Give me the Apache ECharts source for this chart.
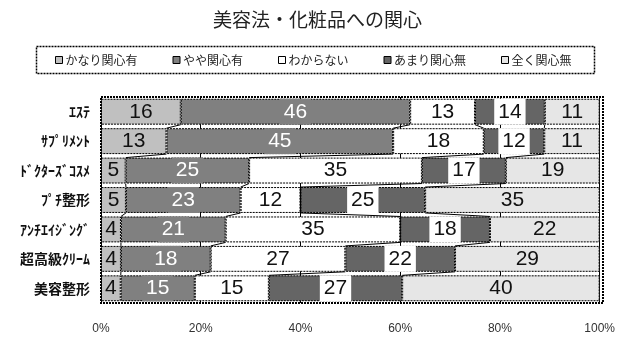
<!DOCTYPE html>
<html>
<head>
<meta charset="utf-8">
<script src="https://cdn.jsdelivr.net/npm/echarts@6/dist/echarts.min.js"></script>
<style>
  html, body { margin: 0; padding: 0; background: #fff; }
  #chart { width: 618px; height: 338px; }
</style>
</head>
<body>
<div id="chart"></div>
<script>
// Survey rows, top to bottom
const categories = ['ｴｽﾃ', 'ｻﾌﾟﾘﾒﾝﾄ', 'ﾄﾞｸﾀｰｽﾞｺｽﾒ', 'ﾌﾟﾁ整形', 'ｱﾝﾁｴｲｼﾞﾝｸﾞ', '超高級ｸﾘｰﾑ', '美容整形'];
const seriesNames = ['かなり関心有', 'やや関心有', 'わからない', 'あまり関心無', '全く関心無'];

// Answer percentages per row (rounded, as printed)
const veryInterested = [16, 13, 5, 5, 4, 4, 4];
const somewhatInterested = [46, 45, 25, 23, 21, 18, 15];
const unsure = [13, 18, 35, 12, 35, 27, 15];
const notVeryInterested = [14, 12, 17, 25, 18, 22, 27];
const notAtAllInterested = [11, 11, 19, 35, 22, 29, 40];

const axisMax = 100;
const tickStep = 20;

const groups = [veryInterested, somewhatInterested, unsure, notVeryInterested, notAtAllInterested];
const rowTotals = categories.map((_, i) => groups.reduce((s, g) => s + g[i], 0));
// 100% stacking: each segment is its share of the row total
const shares = groups.map(g => g.map((v, i) => v / rowTotals[i] * axisMax));

const fills = ['#c0c0c0', '#808080', '#ffffff', '#656565', '#e6e6e6'];
const labelColors = ['#111', '#fff', '#111', '#111', '#111'];
const labelBgs = [null, '#808080', null, '#ffffff', null];

const GRID = { left: 101, right: 15, top: 97, bottom: 35 };
const W = 618, H = 338;
const BAR_RATIO = 0.88;
const labelFont = 'Liberation Sans, Arial, sans-serif';
const cjkFont = '"Noto Sans CJK JP", sans-serif';

// Series lines joining segment boundaries of neighbouring rows
const connectorData = [];
for (let i = 0; i < categories.length - 1; i++) {
  let a = 0, b = 0;
  for (let k = 0; k < groups.length - 1; k++) {
    a += shares[k][i];
    b += shares[k][i + 1];
    connectorData.push([a, i, b]);
  }
}

const barSeries = groups.map((g, k) => ({
  name: seriesNames[k],
  type: 'bar',
  stack: 'total',
  barWidth: (BAR_RATIO * 100) + '%',
  data: shares[k],
  itemStyle: {
    color: fills[k],
    borderColor: '#000',
    borderWidth: 1,
    borderType: [2, 1]
  },
  label: {
    show: true,
    position: 'inside',
    formatter: p => String(g[p.dataIndex]),
    color: labelColors[k],
    fontFamily: labelFont,
    fontSize: 21,
    lineHeight: 20,
    backgroundColor: labelBgs[k] || 'transparent',
    padding: labelBgs[k] ? [3, 4, 3, 4] : 0
  },
  emphasis: { disabled: true },
  z: 2
}));

const chart = echarts.init(document.getElementById('chart'), null, { renderer: 'canvas' });
chart.setOption({
  animation: false,
  backgroundColor: '#fff',
  title: {
    text: '美容法・化粧品への関心',
    left: 208,
    top: 5,
    textStyle: { fontFamily: cjkFont, fontSize: 19, fontWeight: 'normal', color: '#222' }
  },
  legend: {
    data: seriesNames,
    left: 55,
    top: 54,
    padding: 0,
    itemGap: 35,
    itemWidth: 7,
    itemHeight: 7,
    icon: 'rect',
    itemStyle: { borderColor: '#000', borderWidth: 1, borderType: 'solid' },
    textStyle: { fontFamily: cjkFont, fontSize: 12, color: '#222', padding: [0, 0, 0, -2] }
  },
  grid: { left: GRID.left, right: GRID.right, top: GRID.top, bottom: GRID.bottom, containLabel: false },
  xAxis: {
    type: 'value',
    min: 0,
    max: axisMax,
    interval: tickStep,
    axisLine: { show: false },
    axisTick: { show: false },
    splitLine: { show: true, lineStyle: { color: '#000', width: 1 } },
    axisLabel: {
      formatter: '{value}%',
      margin: 20,
      fontFamily: labelFont,
      fontSize: 12,
      color: '#333'
    }
  },
  yAxis: {
    type: 'category',
    data: categories,
    inverse: true,
    axisLine: { show: false },
    axisTick: { show: false },
    axisLabel: {
      margin: 11,
      fontFamily: cjkFont,
      fontSize: 14,
      fontWeight: 'bold',
      color: '#111'
    }
  },
  series: barSeries.concat([{
    type: 'custom',
    silent: true,
    z: 3,
    data: connectorData,
    encode: { x: [0, 2], y: 1 },
    renderItem: (params, api) => {
      const row = api.value(1);
      const half = api.size([0, 1])[1] * BAR_RATIO / 2;
      const p0 = api.coord([api.value(0), row]);
      const p1 = api.coord([api.value(2), row + 1]);
      return {
        type: 'line',
        shape: { x1: p0[0], y1: p0[1] + half, x2: p1[0], y2: p1[1] - half },
        style: { stroke: '#000', lineWidth: 1 }
      };
    }
  }]),
  graphic: [
    {
      // legend frame
      type: 'rect',
      shape: { x: 36.5, y: 46.5, width: 558, height: 27 },
      style: { fill: 'none', stroke: '#000', lineWidth: 1.5, lineDash: [2, 1] },
      z: 10
    },
    {
      // plot area frame
      type: 'rect',
      shape: {
        x: GRID.left,
        y: GRID.top,
        width: W - GRID.left - GRID.right,
        height: H - GRID.top - GRID.bottom
      },
      style: { fill: 'none', stroke: '#000', lineWidth: 2, lineDash: [2, 1] },
      z: 10
    }
  ]
});
</script>
</body>
</html>
